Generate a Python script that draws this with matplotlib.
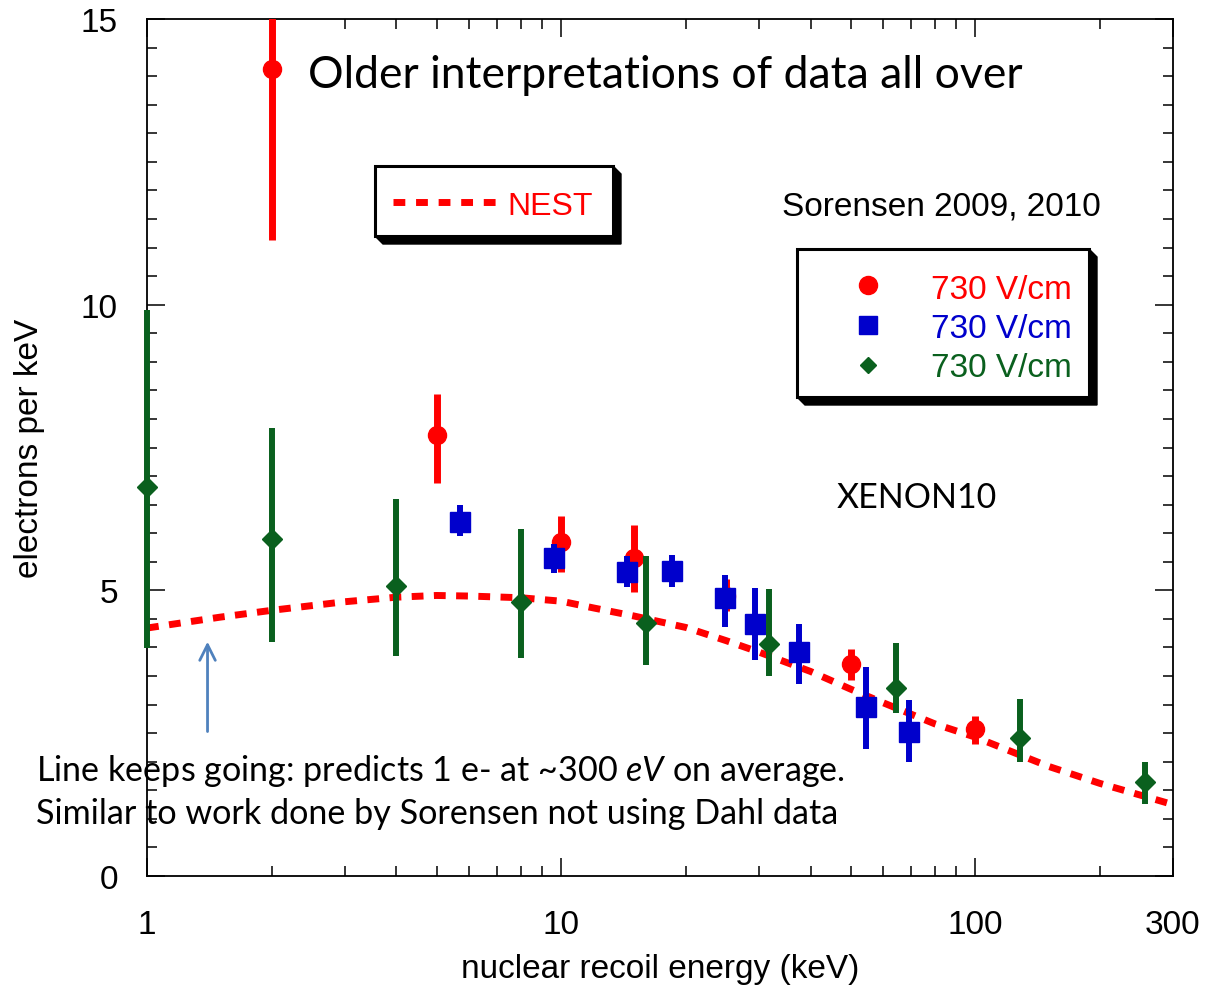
import matplotlib
matplotlib.use('Agg')
import matplotlib.pyplot as plt
from matplotlib.lines import Line2D
from matplotlib.patches import Polygon, Rectangle
from matplotlib.ticker import FixedLocator, MultipleLocator, NullFormatter

plt.rcParams['font.family'] = ['Liberation Sans', 'DejaVu Sans']
plt.rcParams['mathtext.fontset'] = 'custom'
plt.rcParams['mathtext.rm'] = 'Lato'
plt.rcParams['mathtext.it'] = 'Lato:italic'

# NEST model curve
nest_x = [1, 1.5, 2, 3, 4, 5, 6, 8, 10, 12, 15, 20, 25, 30, 40, 50, 60, 80, 100, 150, 200, 300]
nest_y = [4.34, 4.53, 4.65, 4.80, 4.88, 4.91, 4.90, 4.87, 4.81, 4.69, 4.55, 4.35, 4.12, 3.92,
          3.58, 3.27, 3.03, 2.66, 2.43, 1.92, 1.62, 1.25]

# red circles
red_x = [2, 5, 10, 15, 25, 50, 100]
red_y = [14.13, 7.72, 5.85, 5.57, 4.90, 3.71, 2.57]
red_lo = [3.0, 0.84, 0.53, 0.60, 0.26, 0.28, 0.26]
red_hi = [3.0, 0.72, 0.45, 0.57, 0.30, 0.26, 0.23]

# blue squares
blue_x = [5.7, 9.6, 14.4, 18.5, 24.9, 29.4, 37.6, 54.5, 69.3]
blue_y = [6.20, 5.57, 5.32, 5.34, 4.87, 4.41, 3.92, 2.96, 2.52]
blue_lo = [0.25, 0.27, 0.26, 0.28, 0.51, 0.63, 0.56, 0.74, 0.52]
blue_hi = [0.29, 0.24, 0.28, 0.28, 0.40, 0.63, 0.49, 0.70, 0.56]

# green diamonds
green_x = [1, 2, 4, 8, 16, 31.8, 64.4, 128, 257]
green_y = [6.81, 5.90, 5.08, 4.80, 4.43, 4.06, 3.29, 2.42, 1.65]
green_lo = [2.82, 1.80, 1.23, 0.98, 0.74, 0.56, 0.44, 0.42, 0.39]
green_hi = [3.09, 1.94, 1.52, 1.27, 1.17, 0.96, 0.79, 0.68, 0.35]

x_major = [1, 10, 100, 300]
x_minor = [2, 3, 4, 5, 6, 7, 8, 9, 20, 30, 40, 50, 60, 70, 80, 90, 200]

RED = '#ff0000'
BLUE = '#0000cc'
GREEN = '#0a601e'
W, H = 1206, 987


def fx(px):
    return px / W


def fy(py):
    return 1 - py / H


fig = plt.figure(figsize=(12.06, 9.87), dpi=100)
ax = fig.add_axes([fx(147), fy(877), fx(1173) - fx(147), fy(20) - fy(877)])

dash = (0, (1.7, 1.5))
ax.plot(nest_x, nest_y, color=RED, lw=5, linestyle=dash, zorder=2)

ax.errorbar(red_x, red_y, yerr=[red_lo, red_hi], fmt='o', color=RED, ms=13,
            elinewidth=5, capsize=0, zorder=3)
ax.errorbar(blue_x, blue_y, yerr=[blue_lo, blue_hi], fmt='s', color=BLUE, ms=14,
            elinewidth=4.3, capsize=0, zorder=4)
eb = ax.errorbar(green_x, green_y, yerr=[green_lo, green_hi], fmt='D', color=GREEN, ms=10,
                 elinewidth=4.3, capsize=0, zorder=5)
for art in eb.get_children():
    art.set_clip_on(False)

ax.set_xscale('log')
ax.set_xlim(1, 300)
ax.set_ylim(0, 15)
ax.xaxis.set_major_locator(FixedLocator(x_major))
ax.xaxis.set_minor_locator(FixedLocator(x_minor))
ax.set_xticklabels([str(v) for v in x_major])
ax.xaxis.set_minor_formatter(NullFormatter())
ax.yaxis.set_major_locator(MultipleLocator(5))
ax.yaxis.set_minor_locator(MultipleLocator(0.5))

ax.tick_params(which='both', direction='in', top=True, right=True, width=1.1, labelsize=24)
ax.tick_params(which='major', length=13)
ax.tick_params(which='minor', length=7)
ax.tick_params(axis='y', pad=21)
ax.tick_params(axis='x', pad=24)
for sp in ax.spines.values():
    sp.set_linewidth(1.3)

ax.set_xlabel('nuclear recoil energy (keV)', fontsize=24)
ax.set_ylabel('electrons per keV', fontsize=24)
ax.xaxis.label.set_va('center')
ax.yaxis.label.set_va('center')
ax.xaxis.set_label_coords(0.5, (877 - 970) / 857)
ax.yaxis.set_label_coords((30 - 147) / 1026, 0.5)

# arrow pointing at the low energy end of the curve
ax.annotate('', xy=(1.4, 4.15), xytext=(1.4, 2.48),
            arrowprops=dict(arrowstyle='->', color='#4f81bd', lw=2, mutation_scale=28))


def shadow_box(l, t, r, b, d=8):
    shadow = Polygon([(fx(l), fy(b)), (fx(l + d), fy(b + d)), (fx(r + d), fy(b + d)),
                      (fx(r + d), fy(t + d)), (fx(r), fy(t))],
                     closed=True, facecolor='black', edgecolor='black',
                     transform=fig.transFigure, zorder=1)
    box = Rectangle((fx(l), fy(b)), fx(r) - fx(l), fy(t) - fy(b), facecolor='white',
                    edgecolor='black', lw=2.2, transform=fig.transFigure, zorder=1.1)
    fig.add_artist(shadow)
    fig.add_artist(box)


# NEST legend
shadow_box(375, 167, 613, 237)
fig.add_artist(Line2D([fx(393), fx(496)], [fy(203), fy(203)], color=RED, lw=5,
                      linestyle=(0, (1.7, 1.55)), transform=fig.transFigure, zorder=2))
fig.text(fx(507), fy(215), 'NEST', color=RED, fontsize=23, va='baseline', ha='left')

# data legend
shadow_box(797, 250, 1089, 398)
legend_rows = [('o', 13, RED, 286, 299), ('s', 13.5, BLUE, 326, 338), ('D', 8, GREEN, 366, 377)]
for m, ms, c, ym, yt in legend_rows:
    fig.add_artist(Line2D([fx(868)], [fy(ym)], marker=m, ms=ms, color=c, linestyle='none',
                          transform=fig.transFigure, zorder=2))
    fig.text(fx(1072), fy(yt), '730 V/cm', color=c, fontsize=24, ha='right', va='baseline')

fig.text(fx(782), fy(216), 'Sorensen 2009, 2010', fontsize=24, ha='left', va='baseline')
fig.text(fx(837), fy(508), 'XENON10', fontsize=24.5, family=['Lato', 'DejaVu Sans'],
         ha='left', va='baseline')
fig.text(fx(308), fy(88), 'Older interpretations of data all over', fontsize=32,
         family=['Lato', 'DejaVu Sans'], ha='left', va='baseline')
fig.text(fx(36), fy(781), 'Line keeps going: predicts 1 e- at ~300 $eV$ on average.',
         fontsize=24.6, family=['Lato', 'DejaVu Sans'], ha='left', va='baseline')
fig.text(fx(36), fy(824), 'Similar to work done by Sorensen not using Dahl data',
         fontsize=24.6, family=['Lato', 'DejaVu Sans'], ha='left', va='baseline')

fig.savefig('out.png', dpi=100)
